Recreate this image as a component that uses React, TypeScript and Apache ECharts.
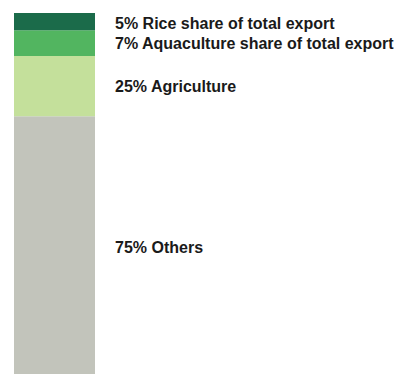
import React, { useEffect, useRef } from "react";
import * as echarts from "echarts";

const categories = ["Export"];
// segments from bottom to top
const segmentNames = ["Others", "Agriculture", "Aquaculture", "Rice"];
const segmentValues = [75, 17.5, 7.5, 5];
const segmentLabels = [
  "75% Others",
  "25% Agriculture",
  "7% Aquaculture share of total export",
  "5% Rice share of total export",
];
const segmentColors = ["#c2c4bb", "#c4e09b", "#52b560", "#1b6b4a"];
const labelOffsets = [2, 0, 0, 2];

export default function App() {
  const ref = useRef<HTMLDivElement>(null);
  useEffect(() => {
    if (!ref.current) return;
    const chart = echarts.init(ref.current, null, { renderer: "svg" });
    const total = segmentValues.reduce((a, b) => a + b, 0);
    chart.setOption({
      animation: false,
      grid: { left: 14, right: 304, top: 13, bottom: 0 },
      xAxis: {
        type: "category",
        data: categories,
        show: false,
      },
      yAxis: { type: "value", min: 0, max: total, show: false },
      series: segmentNames.map((name, i) => ({
        name,
        type: "bar",
        stack: "total",
        barWidth: "100%",
        data: [segmentValues[i]],
        itemStyle: { color: segmentColors[i] },
        label: {
          show: true,
          position: "right",
          distance: 20,
          offset: [0, labelOffsets[i]],
          formatter: segmentLabels[i],
          color: "#1a1a1a",
          fontFamily: "Liberation Sans",
          fontWeight: "bold",
          fontSize: 16,
        },
      })),
    });
    return () => chart.dispose();
  }, []);
  return (
    <div
      ref={ref}
      style={{ position: "absolute", left: 0, top: 0, width: 399, height: 374 }}
    />
  );
}
